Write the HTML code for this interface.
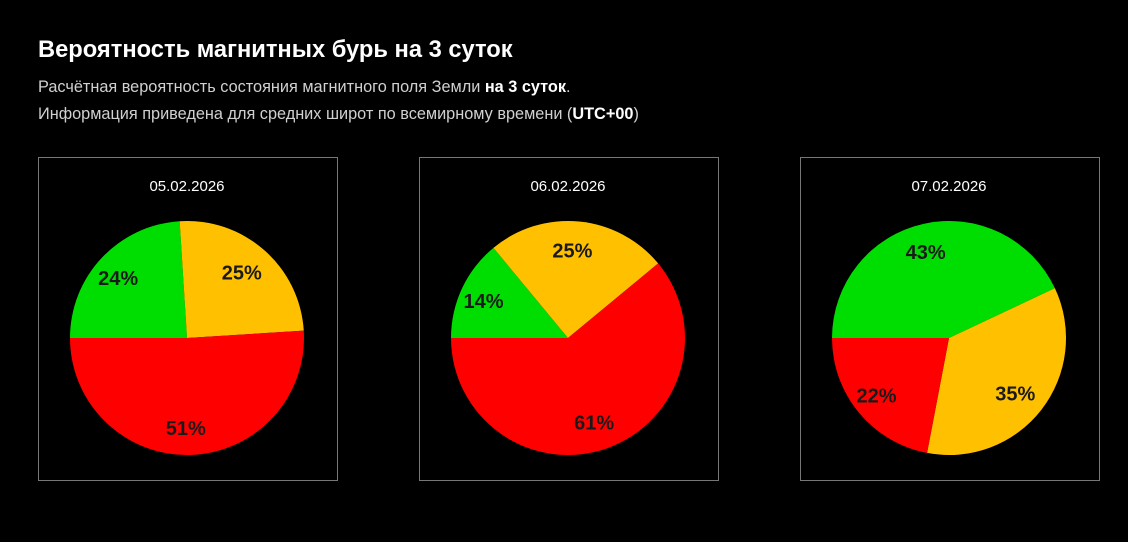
<!DOCTYPE html>
<html><head><meta charset="utf-8"><style>
html,body{margin:0;padding:0;background:#000;width:1128px;height:542px;overflow:hidden;font-family:"Liberation Sans",Arial,sans-serif;}
.t{position:absolute;left:38px;top:37px;color:#fff;font-size:23.7px;font-weight:bold;}
.s{position:absolute;left:38px;color:#d0d0d0;font-size:16.3px;}
.s b{color:#fff;}
svg{position:absolute;left:0;top:0;}
</style></head><body>
<div class="t">Вероятность магнитных бурь на 3 суток</div>
<div class="s" style="top:78px">Расчётная вероятность состояния магнитного поля Земли <b>на 3 суток</b>.</div>
<div class="s" style="top:105px">Информация приведена для средних широт по всемирному времени (<b>UTC+00</b>)</div>
<svg id="sv" width="1128" height="542" xmlns="http://www.w3.org/2000/svg"></svg>
<script>
var sv=document.getElementById('sv');
var charts=[
 {bx:38,cx:187,d:'05.02.2026',v:[24,25,51]},
 {bx:419,cx:568,d:'06.02.2026',v:[14,25,61]},
 {bx:800,cx:949,d:'07.02.2026',v:[43,35,22]}];
var col=['#00dd00','#ffc000','#ff0000'];
var h='',cy=338,r=117;
function pt(a,rr,cx){var t=a*Math.PI/180;return [cx+rr*Math.sin(t),cy-rr*Math.cos(t)];}
charts.forEach(function(c){
 h+='<rect x="'+(c.bx+0.5)+'" y="157.5" width="299" height="323" fill="none" stroke="#777" stroke-width="1"/>';
 h+='<text x="'+c.cx+'" y="191" fill="#fff" font-size="15" text-anchor="middle" font-family="Liberation Sans,sans-serif">'+c.d+'</text>';
 var a=270;
 c.v.forEach(function(v,i){
  var s=v*3.6,p1=pt(a,r,c.cx),p2=pt(a+s,r,c.cx);
  h+='<path d="M'+c.cx+','+cy+' L'+p1[0]+','+p1[1]+' A'+r+','+r+' 0 '+(s>180?1:0)+' 1 '+p2[0]+','+p2[1]+' Z" fill="'+col[i]+'"/>';
  a+=s;
 });
 a=270;
 c.v.forEach(function(v,i){
  var s=v*3.6,m=pt(a+s/2,r*0.76,c.cx);
  h+='<text x="'+(m[0]-4)+'" y="'+(m[1]+8)+'" fill="#1a1a1a" font-size="20" font-weight="bold" text-anchor="middle" font-family="Liberation Sans,sans-serif">'+v+'%</text>';
  a+=s;
 });
});
sv.innerHTML=h;
</script>
</body></html>
